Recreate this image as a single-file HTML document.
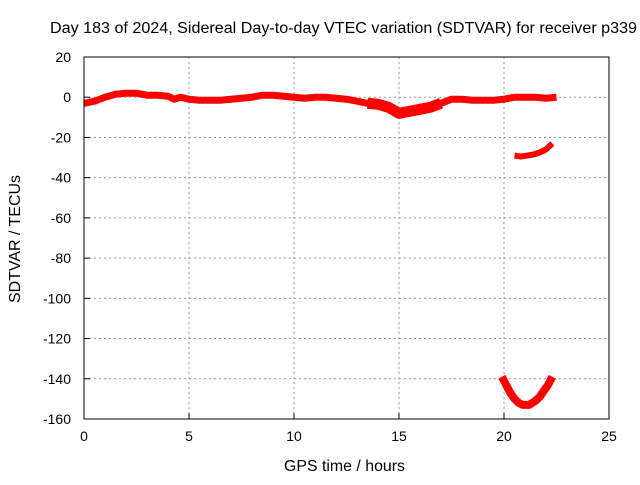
<!DOCTYPE html>
<html><head><meta charset="utf-8"><style>
body{margin:0;background:#fff}
svg text{font-family:"Liberation Sans",sans-serif;font-size:14px;fill:#000}
</style></head><body>
<svg id="chart" width="640" height="480">
<rect width="640" height="480" fill="#fff"/>
<text x="50" y="33" textLength="587" lengthAdjust="spacingAndGlyphs" style="font-size:15.5px">Day 183 of 2024, Sidereal Day-to-day VTEC variation (SDTVAR) for receiver p339</text>
<g id="grid"></g>
<g id="ticks"></g>
<g id="series"></g>
<rect x="84" y="57" width="525" height="362" fill="none" stroke="#000"/>
<text x="284" y="471" textLength="121" lengthAdjust="spacingAndGlyphs" style="font-size:15.5px">GPS time / hours</text>
<text x="20" y="239" text-anchor="middle" textLength="128" lengthAdjust="spacingAndGlyphs" style="font-size:15.5px" transform="rotate(-90 20 239)">SDTVAR / TECUs</text>
</svg>
<script>
const xTicks=[0,5,10,15,20,25];
const yTicks=[20,0,-20,-40,-60,-80,-100,-120,-140,-160];
const mainT=[0,0.5,1,1.5,2,2.5,3,3.5,4,4.3,4.6,5,5.5,6,6.5,7,7.5,8,8.5,9,9.5,10,10.5,11,11.5,12,12.5,13,13.5,14,14.5,15,15.5,16,16.5,17,17.5,18,18.5,19,19.5,20,20.5,21,21.5,22,22.5];
const mainV=[-3,-2,0,1.5,2,2,1,1,0.5,-1,0,-1,-1.5,-1.5,-1.5,-1,-0.5,0,1,1,0.5,0,-0.5,0,0,-0.5,-1,-2,-3,-3.5,-5,-8,-7,-6,-5,-3,-1,-1,-1.5,-1.5,-1.5,-1,0,0,0,-0.5,0];
const arc2T=[20.5,20.8,21.1,21.4,21.7,22,22.3];
const arc2V=[-29,-29.5,-29,-28.5,-27.5,-26,-23];
const arc3T=[19.9,20.1,20.3,20.5,20.7,20.9,21.2,21.5,21.7,21.9,22.1,22.3];
const arc3V=[-139,-143,-147,-150,-152,-153,-153,-151,-149,-146,-143,-139];
const NS='http://www.w3.org/2000/svg';
const X=t=>84+t*21, Y=v=>57+(20-v)*362/180;
function mk(tag,at,parent){const e=document.createElementNS(NS,tag);for(const k in at)e.setAttribute(k,at[k]);parent.appendChild(e);return e;}
const grid=document.getElementById('grid'),ticks=document.getElementById('ticks'),ser=document.getElementById('series');
xTicks.forEach(t=>{
 if(t>0&&t<25){const l=mk('line',{x1:X(t),x2:X(t),y1:57,y2:419,stroke:'#999','stroke-dasharray':'2,3'},grid);
 
 }
 mk('line',{x1:X(t),x2:X(t),y1:419,y2:413,stroke:'#000'},ticks);
 const tx=mk('text',{x:X(t),y:441,'text-anchor':'middle'},ticks);tx.textContent=t;
 
 
});
yTicks.forEach(v=>{
 if(v<20&&v>-160){const l=mk('line',{x1:84,x2:609,y1:Y(v),y2:Y(v),stroke:'#999','stroke-dasharray':'2,3'},grid);
 
 }
 mk('line',{x1:84,x2:90,y1:Y(v),y2:Y(v),stroke:'#000'},ticks);
 const tx=mk('text',{x:71,y:Y(v)+5,'text-anchor':'end'},ticks);tx.textContent=v;
 
 
});
function draw(T,V,w,name){
 const p=mk('polyline',{points:T.map((t,i)=>X(t)+','+Y(V[i])).join(' '),fill:'none',stroke:'#f00','stroke-width':w,'stroke-linejoin':'round'},ser);
 
 
}
draw(mainT,mainV,7,'main-series');
draw(mainT.slice(28,36),mainV.slice(28,36),11,'main-series-dip');
draw(arc2T,arc2V,6,'arc-series-2');
draw(arc3T,arc3V,8,'arc-series-3');
</script>
</body></html>
